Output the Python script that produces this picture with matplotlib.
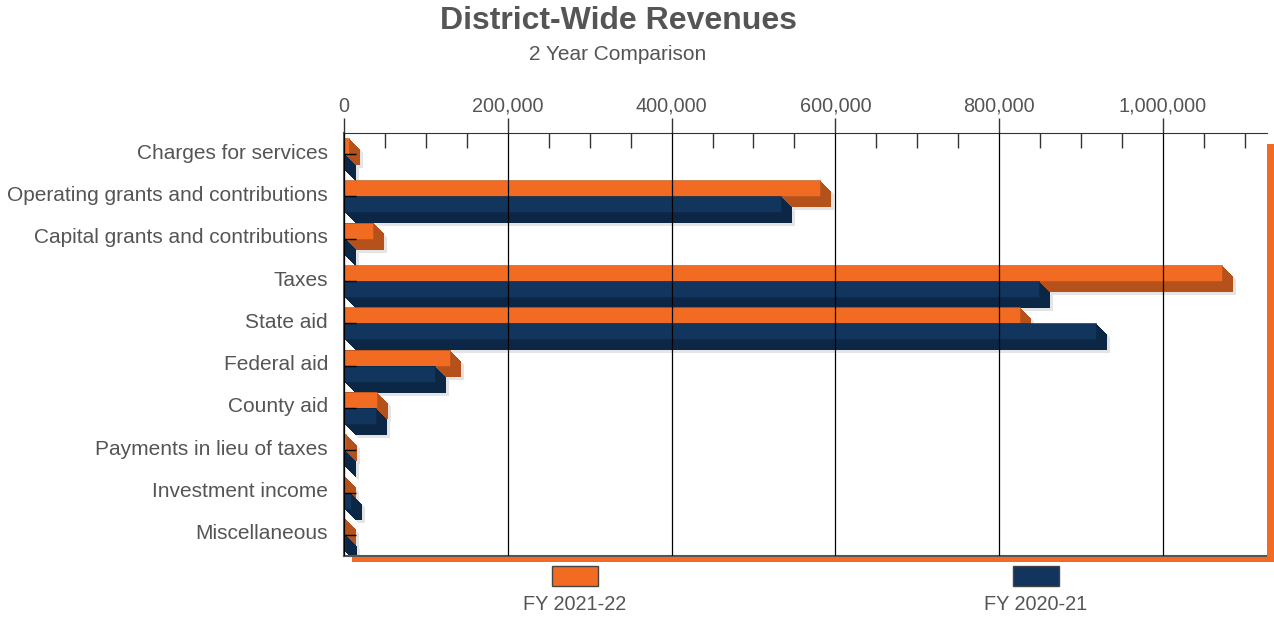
import matplotlib
matplotlib.use("Agg")
import matplotlib.pyplot as plt
import matplotlib.patheffects as pe
from matplotlib.patches import Rectangle
from matplotlib.ticker import FuncFormatter, MultipleLocator, FixedLocator
from matplotlib.transforms import ScaledTranslation

plt.rcParams['font.family'] = ['Liberation Sans', 'DejaVu Sans']

# data
categories = ["Charges for services", "Operating grants and contributions",
              "Capital grants and contributions", "Taxes", "State aid",
              "Federal aid", "County aid", "Payments in lieu of taxes",
              "Investment income", "Miscellaneous"]
fy_2122 = [6500, 581000, 36000, 1072000, 825000, 129000, 40000, 3000, 1500, 1500]
fy_2021 = [1500, 534000, 1500, 849000, 918000, 111000, 39000, 1000, 8000, 2000]
series_names = ["FY 2021-22", "FY 2020-21"]
front_colors = ["#f26b22", "#12355e"]
depth_colors = ["#b5521c", "#0c2746"]

W, H = 1274, 617
fig = plt.figure(figsize=(W / 100, H / 100), dpi=100)
ax = fig.add_axes([344 / W, (H - 556) / H, (1267 - 344) / W, (556 - 133) / H])

px = 0.72  # points per pixel at dpi 100
depth = 11  # px


def box_effects(dark):
    # light shadow, then the extruded side/bottom, then the front face
    eff = [pe.SimplePatchShadow(offset=(s * px, -s * px), shadow_rgbFace="#e4e4e4", alpha=1)
           for s in (14, 13, 12)]
    eff += [pe.SimplePatchShadow(offset=(s / 2 * px, -s / 2 * px), shadow_rgbFace=dark, alpha=1)
            for s in range(2 * depth, 0, -1)]
    eff.append(pe.Normal())
    return eff


bh = 16 / 42.3
ypos = list(range(len(categories)))
for k, vals in enumerate([fy_2122, fy_2021]):
    off = -bh / 2 if k == 0 else bh / 2
    bars = ax.barh([y + off for y in ypos], vals, height=bh, color=front_colors[k],
                   edgecolor=depth_colors[k], linewidth=0.4,
                   path_effects=box_effects(depth_colors[k]))
    for i, b in enumerate(bars):
        b.set_zorder(1 + 0.1 * i + 0.05 * k)

ax.set_xlim(0, 1127000)
ax.set_ylim(len(categories) - 0.5, -0.5)

# axes on top of the bars
ax.set_axisbelow(False)
ax.xaxis.tick_top()
ax.xaxis.set_major_locator(MultipleLocator(200000))
ax.xaxis.set_minor_locator(FixedLocator([v for v in range(50000, 1127000, 50000) if v % 200000]))
ax.xaxis.set_major_formatter(FuncFormatter(lambda v, p: f"{v:,.0f}"))
ax.tick_params(axis='x', which='major', direction='out', length=15 * px, width=1,
               color='#333333', labelsize=14.3, labelcolor='#555555', pad=1.5)
ax.tick_params(axis='x', which='minor', direction='in', length=15 * px, width=1,
               color='#333333', top=True, bottom=False)
ax.grid(axis='x', which='major', color='black', linewidth=0.9)

ax.set_yticks(ypos)
ax.set_yticklabels(categories)
ax.tick_params(axis='y', direction='in', length=12 * px, width=1, color='black',
               labelsize=15, labelcolor='#555555', pad=11.5)
for lab in ax.get_yticklabels():
    lab.set_transform(lab.get_transform() + ScaledTranslation(0, 3 / 100, fig.dpi_scale_trans))

ax.spines['right'].set_visible(False)
ax.spines['top'].set_color('#333333')
ax.spines['left'].set_color('#555555')
ax.spines['left'].set_linewidth(1.5)
ax.spines['bottom'].set_color('#555555')
ax.spines['bottom'].set_linewidth(1.5)

# orange back wall and floor of the 3D frame
fig.add_artist(Rectangle((1267 / W, (H - 562) / H), 7 / W, (562 - 144) / H,
                         transform=fig.transFigure, color=front_colors[0], lw=0))
fig.add_artist(Rectangle((352 / W, (H - 562) / H), (1274 - 352) / W, 5 / H,
                         transform=fig.transFigure, color=front_colors[0], lw=0))

# titles
fig.text(619 / W, 1 - 21 / H, "District-Wide Revenues", ha='center', va='center',
         fontsize=23, fontweight='bold', color='#555555')
fig.text(618 / W, 1 - 54 / H, "2 Year Comparison", ha='center', va='center',
         fontsize=15, color='#555555')

# legend: swatch above label
for k, cx in enumerate([575, 1036]):
    fig.add_artist(Rectangle(((cx - 23) / W, (H - 586) / H), 46 / W, 20 / H,
                             transform=fig.transFigure, facecolor=front_colors[k],
                             edgecolor='#444444', lw=1))
    fig.text(cx / W, 1 - 604 / H, series_names[k], ha='center', va='center',
             fontsize=14.3, color='#555555')

fig.savefig("out.png", dpi=100)
